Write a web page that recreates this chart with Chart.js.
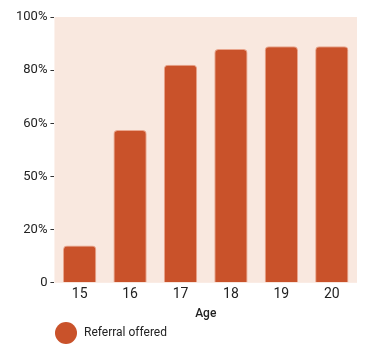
<!DOCTYPE html>
<html>
<head>
<meta charset="utf-8">
<script src="https://cdn.jsdelivr.net/npm/chart.js@4"></script>
<style>
  html, body { margin: 0; padding: 0; background: #fff; }
  #wrap { width: 372px; height: 351px; }
</style>
</head>
<body>
<div id="wrap"><canvas id="chart"></canvas></div>
<script>
var ages = ['15', '16', '17', '18', '19', '20'];
var referral_offered = [14, 57.5, 82, 88, 89, 89];
var y_tick_labels = ['0', '20%', '50%', '60%', '80%', '100%'];

var bar_color = '#C9522A';
var panel_color = '#F9E8DF';

// circle used as legend marker (bigger than the font allows)
function makeDot(r, color) {
    var c = document.createElement('canvas');
    c.width = r * 2 + 2;
    c.height = r * 2 + 2;
    var ctx = c.getContext('2d');
    ctx.fillStyle = color;
    ctx.beginPath();
    ctx.arc(r + 1, r + 1, r, 0, Math.PI * 2);
    ctx.fill();
    return c;
}
var dot = makeDot(11, bar_color);

// fill the plot area behind the bars, and push the legend to the right a bit
var panelBg = {
    id: 'panelBg',
    afterLayout: function(chart) {
        chart.legend.left = 48;
    },
    beforeDraw: function(chart) {
        var a = chart.chartArea;
        var ctx = chart.ctx;
        ctx.save();
        ctx.fillStyle = panel_color;
        ctx.fillRect(a.left, a.top, a.right - a.left, a.bottom - a.top);
        ctx.restore();
    }
};

new Chart(document.getElementById('chart'), {
    type: 'bar',
    data: {
        labels: ages,
        datasets: [{
            label: 'Referral offered',
            data: referral_offered,
            backgroundColor: bar_color,
            borderColor: '#E9A58D',
            borderWidth: 1,
            borderRadius: { topLeft: 4, topRight: 4, bottomLeft: 0, bottomRight: 0 },
            borderSkipped: 'bottom',
            barPercentage: 0.66,
            categoryPercentage: 1.0,
            pointStyle: dot
        }]
    },
    options: {
        responsive: true,
        maintainAspectRatio: false,
        animation: false,
        layout: { padding: { top: 17, right: 15, left: 13, bottom: 2 } },
        plugins: {
            legend: {
                position: 'bottom',
                align: 'start',
                labels: {
                    usePointStyle: true,
                    pointStyleWidth: 24,
                    color: '#222',
                    font: { family: 'Roboto', size: 12 },
                    padding: 6
                }
            },
            tooltip: { enabled: false }
        },
        scales: {
            x: {
                grid: { display: false, drawTicks: false },
                border: { display: false },
                ticks: { color: '#222', font: { family: 'Roboto', size: 14 }, padding: 3 },
                title: { display: true, text: 'Age', color: '#222', font: { family: 'Roboto', size: 12, weight: '500' }, padding: { top: 1, bottom: 0 } }
            },
            y: {
                min: 0,
                max: 100,
                grid: { drawOnChartArea: false, tickLength: 4, tickColor: '#333', tickWidth: 1 },
                border: { display: false },
                ticks: {
                    stepSize: 20,
                    color: '#222',
                    font: { family: 'Roboto', size: 13 },
                    padding: 3,
                    callback: function(value, index) { return y_tick_labels[index]; }
                }
            }
        }
    },
    plugins: [panelBg]
});
</script>
</body>
</html>
